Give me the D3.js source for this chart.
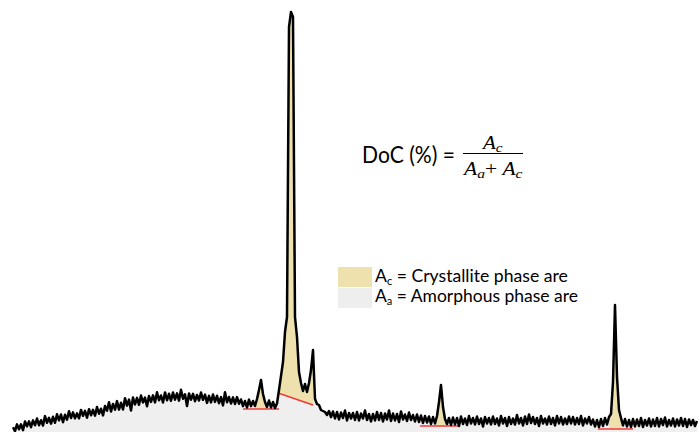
<!DOCTYPE html>
<html><head><meta charset="utf-8">
<script src="https://cdn.jsdelivr.net/npm/d3@7"></script>
<style>html,body{margin:0;padding:0;background:#fff;} svg{display:block;}</style>
</head><body>
<svg id="chart" width="700" height="432"></svg>
<script>
// XRD scan: 2θ start / step (degrees) and intensity counts
const twoThetaStart = 5;
const twoThetaStep = 0.2;
const intensity = [
48,8,76,27,77,19,105,56,106,48,
116,67,135,68,118,64,159,92,142,84,
152,92,177,117,175,97,173,123,208,140,
196,137,186,136,221,162,211,143,228,168,
222,164,250,183,233,166,261,212,298,204,
281,223,309,224,292,225,338,264,324,215,
345,275,341,272,365,296,344,257,359,301,
366,296,397,318,365,295,396,317,382,312,
395,323,386,314,422,332,377,260,386,323,
381,308,370,315,395,322,374,291,361,296,
375,301,362,288,349,266,398,298,350,285,
346,280,349,283,325,259,310,245,324,259,
310,260,330,420,520,380,300,250,315,245,
300,240,285,420,560,700,1000,1150,4050,4200,
4150,1150,950,600,490,410,480,400,490,620,
820,330,280,270,220,210,200,170,210,150,
205,135,200,125,195,140,215,115,190,135,
190,120,200,115,185,135,215,120,180,105,
180,115,200,120,190,105,185,125,215,110,
185,115,180,100,205,125,175,110,195,120,
170,105,175,100,165,90,160,95,155,80,
150,85,160,300,470,250,130,80,140,70,
145,75,140,60,155,80,135,70,160,85,
140,75,155,80,135,55,150,85,140,75,
155,80,135,65,160,85,140,60,150,80,
135,75,170,85,140,65,155,80,175,90,
150,80,140,60,160,85,135,75,155,80,
140,65,160,85,150,75,135,80,155,85,
150,75,140,80,160,65,135,85,150,75,
125,55,120,50,130,60,140,75,150,180,
500,1270,550,220,140,65,130,55,120,50,
130,55,125,60,140,50,120,65,135,55,
125,60,140,55,130,70,145,55,120,65,
135,55,125,65,140,60,130,50,125,70,
120,60,110
];
// baselines (red lines) under the crystalline peaks: 2θ start/end and intensity start/end
const baseStart2T = [28.0, 31.5, 45.7, 63.5];
const baseEnd2T   = [31.6, 35.0, 49.5, 67.0];
const baseStartI  = [230, 390, 60, 30];
const baseEndI    = [230, 270, 60, 30];
// crystalline peak areas (2θ ranges) and which baseline they sit on
const peakFrom = [29.2, 31.5, 47.2, 64.6];
const peakTo   = [30.4, 35.0, 48.4, 65.8];
const peakBase = [0, 1, 2, 3];
// legend
const legendSymbols = ["A", "A"];
const legendSubs = ["c", "a"];
const legendTexts = [" = Crystallite phase are", " = Amorphous phase are"];
const legendColors = ["#eee1ae", "#eeeeee"];

const svg = d3.select("#chart");
const x = d3.scaleLinear().domain([5, 73.4]).range([13, 697]);
const y = d3.scaleLinear().domain([0, 4200]).range([432, 12]);

const scan = intensity.map((v, i) => ({t: +(twoThetaStart + i * twoThetaStep).toFixed(2), v}));

// amorphous (grey) area under the whole curve
svg.append("path").datum(scan)
  .attr("fill", "#efefef")
  .attr("d", d3.area().x(d => x(d.t)).y0(y(0)).y1(d => y(d.v)));

function baseAt(b, t) {
  const f = (t - baseStart2T[b]) / (baseEnd2T[b] - baseStart2T[b]);
  return baseStartI[b] + f * (baseEndI[b] - baseStartI[b]);
}
function curveAt(t) {
  const idx = (t - twoThetaStart) / twoThetaStep;
  const i0 = Math.max(0, Math.floor(idx)), i1 = Math.min(intensity.length - 1, i0 + 1);
  const f = idx - i0;
  return intensity[i0] * (1 - f) + intensity[i1] * f;
}

// crystalline (yellow) areas
peakFrom.forEach((a, k) => {
  const b = peakBase[k], e = peakTo[k];
  const pts = [{t: a, v: curveAt(a)}].concat(scan.filter(d => d.t > a && d.t < e)).concat([{t: e, v: curveAt(e)}]);
  svg.append("path").datum(pts)
    .attr("fill", "#eee1ae")
    .attr("d", d3.area().x(d => x(d.t)).y0(d => y(baseAt(b, d.t))).y1(d => y(Math.max(d.v, baseAt(b, d.t)))));
});

// red baselines
baseStart2T.forEach((s, k) => {
  svg.append("line")
    .attr("x1", x(s)).attr("y1", y(baseStartI[k]))
    .attr("x2", x(baseEnd2T[k])).attr("y2", y(baseEndI[k]))
    .attr("stroke", "#f03a3a").attr("stroke-width", 1.6);
});

// the scan itself
svg.append("path").datum(scan)
  .attr("fill", "none").attr("stroke", "#000").attr("stroke-width", 2.5)
  .attr("stroke-linejoin", "round")
  .attr("d", d3.line().x(d => x(d.t)).y(d => y(d.v)));

function fitWidth(sel, x0, w) {
  const bb = sel.node().getBBox();
  const s = w / bb.width;
  sel.attr("transform", `translate(${x0},0) scale(${s},1) translate(${-x0},0)`);
}

// legend
legendSymbols.forEach((sym, i) => {
  const yy = 267 + i * 21;
  svg.append("rect").attr("x", 338).attr("y", yy).attr("width", 34).attr("height", 20)
    .attr("fill", legendColors[i]);
  const t = svg.append("text").attr("x", 375).attr("y", 282 + i * 20)
    .attr("font-family", "Lato, 'Open Sans', sans-serif").attr("font-size", 17.5).attr("fill", "#000");
  t.append("tspan").text(sym);
  t.append("tspan").attr("dy", 3).attr("font-size", 11).text(legendSubs[i]);
  t.append("tspan").attr("dy", -3).text(legendTexts[i]);
  fitWidth(t, 375, i === 0 ? 193 : 203);
});

// formula
const f1 = svg.append("text").attr("x", 362).attr("y", 163)
  .attr("font-family", "Lato, 'Open Sans', sans-serif").attr("font-size", 23.5).attr("fill", "#000")
  .text("DoC (%) =");
fitWidth(f1, 362, 93);

svg.append("line").attr("x1", 463).attr("x2", 523).attr("y1", 153.5).attr("y2", 153.5)
  .attr("stroke", "#000").attr("stroke-width", 1.1);

const num = svg.append("text").attr("x", 483).attr("y", 149)
  .attr("font-family", "'Liberation Serif', serif").attr("font-style", "italic")
  .attr("font-size", 18).attr("fill", "#000");
num.append("tspan").text("A");
num.append("tspan").attr("dy", 3).attr("font-size", 13).text("c");
fitWidth(num, 483, 21);

const den = svg.append("text").attr("x", 464).attr("y", 175)
  .attr("font-family", "'Liberation Serif', serif").attr("font-style", "italic")
  .attr("font-size", 18).attr("fill", "#000");
den.append("tspan").text("A");
den.append("tspan").attr("dy", 3).attr("font-size", 13).text("a");
den.append("tspan").attr("dy", -3).attr("font-style", "normal").text("+ ");
den.append("tspan").text("A");
den.append("tspan").attr("dy", 3).attr("font-size", 13).text("c");
fitWidth(den, 464, 60);
</script>
</body></html>
